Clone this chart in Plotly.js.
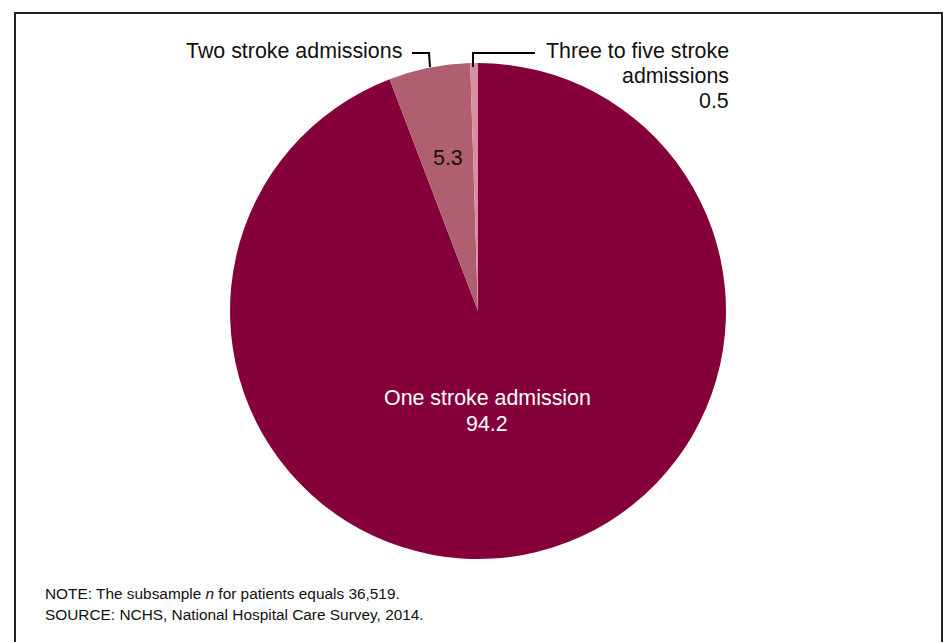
<!DOCTYPE html>
<html>
<head>
<meta charset="utf-8">
<script src="https://cdn.plot.ly/plotly-3.0.1.min.js"></script>
<style>
  html, body { margin: 0; padding: 0; background: #fff; }
  #wrap { position: relative; width: 943px; height: 642px; overflow: hidden; }
  #chart { position: absolute; left: 0; top: 0; width: 943px; height: 642px; }
  #frame { position: absolute; left: 14px; top: 12px; width: 925px; height: 700px;
           border: 2px solid #222; pointer-events: none; }
</style>
</head>
<body>
<div id="wrap">
  <div id="chart"></div>
  <div id="frame"></div>
</div>
<script>
// Number of stroke admissions per patient, percent distribution
const categories = ['One stroke admission', 'Two stroke admissions', 'Three to five stroke admissions'];
const percents = [94.2, 5.3, 0.5];
const sliceColors = ['#85003A', '#B05F70', '#D8909F'];
const thirdLabelLines = ['Three to five stroke', 'admissions'];
const noteLines = [
  'NOTE: The subsample <i>n</i> for patients equals 36,519.',
  'SOURCE: NCHS, National Hospital Care Survey, 2014.'
];

const W = 943, H = 642;
const M = { l: 30, r: 17, t: 63, b: 83 };
const PW = W - M.l - M.r, PH = H - M.t - M.b;
// pixel -> paper helpers
const px = x => (x - M.l) / PW;
const py = y => (H - M.b - y) / PH;

const font = 'Arial, "Liberation Sans", sans-serif';
const labelSize = 21.4;
const noteSize = 15.4;

const trace = {
  type: 'pie',
  labels: categories,
  values: percents,
  sort: false,
  direction: 'clockwise',
  rotation: 0,
  marker: { colors: sliceColors, line: { width: 0 } },
  textinfo: 'none',
  hoverinfo: 'label+value',
  showlegend: false
};

function label(x, y, text, anchor, color, size) {
  return { x: px(x), y: py(y), xref: 'paper', yref: 'paper', xanchor: anchor, yanchor: 'middle',
           text: text, showarrow: false,
           font: { family: font, size: size || labelSize, color: color || '#111111' } };
}

const annotations = [
  // inside the large slice
  label(487, 398, categories[0], 'center', '#ffffff'),
  label(487, 424, percents[0].toFixed(1), 'center', '#ffffff'),
  // value inside the second slice
  label(448, 158, percents[1].toFixed(1), 'center'),
  // outside labels
  label(404, 51, categories[1], 'right'),
  label(731, 51, thirdLabelLines[0], 'right'),
  label(731, 76, thirdLabelLines[1], 'right'),
  label(731, 101, percents[2].toFixed(1), 'right'),
  // footnotes
  label(43, 593, noteLines[0], 'left', '#111111', noteSize),
  label(43, 614, noteLines[1], 'left', '#111111', noteSize)
];

const lineStyle = { color: '#000000', width: 2 };
const shapes = [
  { type: 'path', xref: 'paper', yref: 'paper',
    path: `M ${px(412)} ${py(53)} L ${px(429)} ${py(53)} L ${px(430)} ${py(67)}`, line: lineStyle },
  { type: 'path', xref: 'paper', yref: 'paper',
    path: `M ${px(473)} ${py(67)} L ${px(473)} ${py(53)} L ${px(535)} ${py(53)}`, line: lineStyle }
];

const layout = {
  width: W, height: H,
  margin: M,
  paper_bgcolor: '#ffffff',
  plot_bgcolor: '#ffffff',
  showlegend: false,
  annotations: annotations,
  shapes: shapes
};

Plotly.newPlot('chart', [trace], layout, { displayModeBar: false, staticPlot: true });
</script>
</body>
</html>
